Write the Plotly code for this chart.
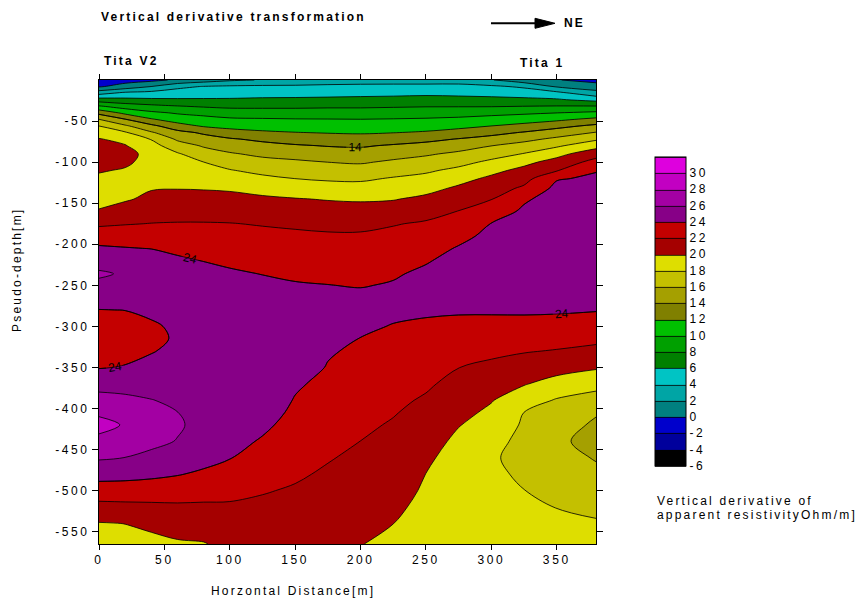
import numpy as np
import plotly.graph_objects as go

# horizontal positions (m) and pseudo-depths (m) of the gridded profile
x_dist = [0, 20, 40, 60, 80, 100, 125, 150, 175, 200, 225, 250, 275, 300, 325, 350, 380]
depth = [0, -8, -16, -24, -32, -40, -48, -56, -64, -72, -80, -90, -100, -110, -120, -132,
         -145, -160, -175, -190, -205, -220, -236, -250, -265, -280, -300, -315, -330, -350,
         -370, -390, -405, -420, -440, -460, -480, -500, -520, -540, -565]

# vertical derivative values read along each vertical profile (top to bottom)
vd_x0 = [-1.5, -0.2, 3.3, 6.9, 10.2, 13.4, 16.05, 18.0, 19.2, 20.1, 20.5, 21.0, 20.6, 20.1, 19.8, 19.4, 19.6, 20.1, 21.7, 23.0, 24.3, 25.3, 26.25, 25.6, 24.7, 23.97, 23.4, 23.0, 23.4, 23.9, 25.3, 26.7, 27.7, 28.6, 27.5, 26.2, 24.7, 23.1, 21.4, 19.9, 19.3]
vd_x20 = [-0.8, 0.8, 4.5, 6.5, 9.1, 11.5, 14.1, 16.3, 18.2, 19.5, 20.1, 20.4, 20.2, 19.9, 19.6, 19.35, 19.8, 20.8, 21.9, 23.0, 24.1, 25.2, 25.8, 25.4, 24.8, 24.02, 23.5, 23.1, 23.5, 24.1, 25.3, 26.4, 27.2, 27.85, 26.9, 25.98, 24.6, 23.1, 21.5, 20.02, 19.45]
vd_x40 = [-0.5, 2.02, 4.7, 6.3, 8.5, 10.4, 12.2, 14.5, 16.2, 17.9, 18.7, 19.6, 19.6, 19.5, 19.6, 19.9, 20.4, 21.2, 22.04, 23.0, 23.95, 24.9, 25.3, 25.1, 24.7, 24.3, 23.8, 23.6, 23.9, 24.5, 25.3, 26.05, 26.5, 26.9, 26.4, 25.6, 24.4, 23.0, 21.6, 20.3, 19.6]
vd_x60 = [0.3, 3.5, 5.0, 6.2, 8.1, 9.8, 11.1, 12.8, 14.6, 15.7, 16.9, 18.2, 19.1, 19.5, 19.6, 19.95, 20.6, 21.3, 22.1, 22.9, 23.6, 24.3, 25.0, 24.8, 24.6, 24.4, 24.25, 24.2, 24.4, 24.8, 25.3, 25.7, 26.02, 26.2, 25.93, 25.0, 24.1, 22.9, 21.7, 20.7, 19.8]
vd_x80 = [1.0, 4.1, 5.1, 6.2, 7.8, 9.4, 10.7, 11.8, 13.7, 14.8, 15.8, 16.9, 18.01, 18.6, 19.2, 19.9, 20.6, 21.3, 22.1, 22.7, 23.4, 23.95, 24.7, 24.7, 24.65, 24.6, 24.6, 24.7, 24.75, 24.9, 25.1, 25.3, 25.4, 25.5, 25.2, 24.6, 23.7, 22.7, 21.7, 20.9, 19.9]
vd_x100 = [1.7, 4.3, 5.2, 6.2, 7.6, 9.0, 10.3, 11.4, 12.8, 14.2, 15.1, 16.2, 17.2, 18.1, 18.9, 19.8, 20.5, 21.3, 22.05, 22.6, 23.1, 23.7, 24.23, 24.65, 25.0, 25.0, 25.02, 25.03, 25.05, 25.05, 25.05, 25.05, 25.03, 25.0, 24.67, 24.07, 23.3, 22.5, 21.75, 21.2, 20.5]
vd_x125 = [2.1, 4.4, 5.3, 6.3, 7.6, 8.9, 10.2, 11.2, 12.3, 13.6, 14.6, 15.6, 16.6, 17.5, 18.4, 19.4, 20.3, 21.1, 21.9, 22.4, 22.9, 23.4, 23.96, 24.38, 24.83, 25.0, 25.02, 25.03, 25.03, 25.02, 25.0, 24.98, 24.85, 24.4, 23.8, 23.2, 22.7, 22.1, 21.7, 21.4, 21.0]
vd_x150 = [2.4, 4.4, 5.3, 6.35, 7.6, 8.9, 10.1, 11.1, 12.05, 13.1, 14.2, 15.3, 16.3, 17.1, 17.99, 19.0, 20.1, 20.9, 21.75, 22.3, 22.8, 23.2, 23.7, 24.15, 24.6, 24.9, 24.92, 24.92, 24.9, 24.85, 24.21, 23.9, 23.6, 23.3, 22.9, 22.55, 22.2, 21.85, 21.6, 21.3, 21.0]
vd_x175 = [2.8, 4.5, 5.4, 6.4, 7.7, 8.9, 10.07, 11.0, 11.9, 12.9, 13.9, 15.0, 15.99, 16.9, 17.75, 18.8, 19.9, 20.8, 21.6, 22.2, 22.7, 23.1, 23.6, 24.03, 24.48, 24.7, 24.72, 24.7, 24.17, 23.9, 23.6, 23.26, 23.0, 22.8, 22.4, 22.1, 21.8, 21.6, 21.3, 21.0, 20.7]
vd_x200 = [3.0, 4.55, 5.45, 6.5, 7.7, 8.9, 10.03, 10.9, 11.8, 12.8, 13.8, 14.8, 15.8, 16.8, 17.7, 18.7, 19.8, 20.7, 21.6, 22.2, 22.65, 23.1, 23.6, 23.9, 24.41, 24.5, 24.36, 23.95, 23.7, 23.4, 23.1, 22.8, 22.55, 22.3, 21.99, 21.7, 21.4, 21.06, 20.75, 20.45, 20.05]
vd_x225 = [3.0, 4.6, 5.5, 6.6, 7.8, 9.0, 10.1, 11.0, 11.95, 13.1, 14.2, 15.3, 16.3, 17.25, 18.15, 19.0, 19.9, 20.9, 21.9, 22.4, 22.85, 23.3, 23.8, 24.15, 24.5, 24.45, 23.9, 23.65, 23.4, 23.05, 22.7, 22.35, 22.1, 21.85, 21.55, 21.25, 20.95, 20.6, 20.3, 20.01, 19.6]
vd_x250 = [3.0, 4.6, 5.6, 6.7, 7.9, 9.1, 10.2, 11.2, 12.2, 13.5, 14.6, 15.75, 16.8, 17.7, 18.55, 19.45, 20.4, 21.4, 22.2, 22.75, 23.3, 23.85, 24.36, 24.5, 24.5, 24.23, 23.74, 23.4, 23.1, 22.7, 22.25, 21.8, 21.5, 21.2, 20.8, 20.4, 19.98, 19.8, 19.6, 19.4, 19.2]
vd_x275 = [3.2, 4.5, 5.5, 6.65, 7.9, 9.2, 10.4, 11.5, 12.7, 14.1, 15.1, 16.4, 17.4, 18.45, 19.4, 20.3, 21.1, 22.05, 22.8, 23.5, 24.15, 24.6, 24.62, 24.6, 24.55, 24.19, 23.57, 23.1, 22.64, 22.02, 21.46, 20.9, 20.5, 20.08, 19.57, 19.06, 18.82, 18.86, 18.9, 18.95, 19.0]
vd_x300 = [2.1, 4.35, 5.4, 6.5, 7.9, 9.4, 10.8, 12.01, 13.4, 14.7, 15.97, 17.2, 18.4, 19.5, 20.35, 21.1, 21.94, 23.0, 24.05, 24.47, 24.8, 24.8, 24.8, 24.78, 24.66, 24.21, 23.5, 22.95, 22.4, 21.6, 20.86, 20.1, 19.65, 19.2, 18.65, 18.22, 18.33, 18.44, 18.55, 18.66, 18.8]
vd_x325 = [0.8, 3.7, 5.1, 6.4, 8.01, 9.7, 11.1, 12.6, 14.15, 15.5, 16.7, 18.1, 19.5, 20.5, 21.3, 22.35, 23.75, 24.32, 24.77, 24.9, 24.9, 24.9, 24.9, 24.88, 24.69, 24.24, 23.46, 22.8, 22.12, 21.13, 20.12, 18.9, 17.98, 17.76, 17.45, 17.45, 17.74, 18.02, 18.2, 18.38, 18.6]
vd_x350 = [0.1, 1.8, 4.6, 6.2, 8.1, 9.98, 11.6, 13.4, 15.0, 16.4, 17.7, 19.4, 20.7, 21.85, 23.85, 24.5, 24.75, 25.0, 25.0, 25.0, 25.0, 25.0, 24.98, 24.95, 24.66, 24.21, 23.37, 22.65, 21.9, 20.7, 19.3, 17.84, 17.35, 16.86, 16.36, 16.77, 17.2, 17.6, 17.98, 18.18, 18.4]
vd_x380 = [-0.7, 0.96, 2.75, 5.4, 8.1, 10.4, 12.5, 14.45, 16.1, 17.7, 19.3, 21.2, 22.7, 23.9, 24.28, 24.64, 25.0, 25.02, 25.02, 25.02, 25.0, 25.0, 24.98, 24.93, 24.48, 24.1, 23.1, 22.4, 21.56, 20.2, 18.64, 17.19, 16.17, 15.7, 15.37, 15.86, 16.44, 17.06, 17.69, 18.14, 18.5]

# contour levels and band colours (from -6 up to 32, step 2)
level_start, level_end, level_step = -6, 32, 2
band_colors = ["#000000", "#00009C", "#0000CC", "#008080", "#00A5A5", "#00C4C4",
               "#008000", "#00A000", "#00C000", "#808000", "#A5A000", "#C4C000",
               "#DEDE00", "#A50000", "#C40000", "#870087", "#A300A3", "#C200C2", "#DE00DE"]
cbar_ticks = list(range(-6, 31, 2))
x_ticks = [0, 50, 100, 150, 200, 250, 300, 350]
y_ticks = list(range(-50, -551, -50))

profiles = [vd_x0, vd_x20, vd_x40, vd_x60, vd_x80, vd_x100, vd_x125, vd_x150, vd_x175,
            vd_x200, vd_x225, vd_x250, vd_x275, vd_x300, vd_x325, vd_x350, vd_x380]
Z = np.column_stack([np.array(p, dtype=float) for p in profiles])

# colour scale for filled contours (band k sampled at (k+1)/n_levels)
n_levels = int(round((level_end - level_start) / level_step)) + 1
fill_scale = [[0.0, band_colors[0]]]
for k, c in enumerate(band_colors):
    fill_scale.append([(k + 1) / n_levels, c])
fill_scale.append([1.0, band_colors[-1]])

# stepped colour scale for the colour bar (exact -6 .. 32 range)
n_bands = len(band_colors)
step_scale = []
for k, c in enumerate(band_colors):
    step_scale.append([k / n_bands, c])
    step_scale.append([(k + 1) / n_bands, c])

FONT = "Liberation Sans, Arial, sans-serif"


def spaced(s, ls=2.2):
    return '<span style="letter-spacing:%spx">%s</span>' % (ls, s)


fig = go.Figure()
fig.add_trace(go.Contour(
    x=x_dist, y=depth, z=Z,
    autocontour=False,
    contours=dict(start=level_start, end=level_end, size=level_step,
                  coloring="fill", showlines=True),
    line=dict(color="black", width=0.8, smoothing=1),
    colorscale=fill_scale, showscale=False,
    hoverinfo="skip",
))
# labelled contour lines (14 and 24)
fig.add_trace(go.Contour(
    x=x_dist, y=depth, z=Z,
    autocontour=False,
    contours=dict(start=14, end=24, size=10, coloring="none", showlabels=True,
                  labelfont=dict(family=FONT, size=12, color="black")),
    line=dict(color="black", width=0.8, smoothing=1),
    showscale=False, hoverinfo="skip",
))
# colour bar carrier (kept outside the visible axis range)
fig.add_trace(go.Contour(
    x=[1000, 1010], y=[1000, 1010], z=[[level_start, level_end], [level_start, level_end]],
    zmin=level_start, zmax=level_end,
    autocontour=False,
    contours=dict(start=level_start, end=level_end, size=level_step,
                  coloring="heatmap", showlines=True),
    line=dict(color="black", width=0.8),
    colorscale=step_scale, hoverinfo="skip",
    colorbar=dict(
        tickmode="array", tickvals=cbar_ticks,
        ticktext=[spaced(str(v), 2.6) for v in cbar_ticks],
        ticks="", ticklen=0,
        tickfont=dict(family=FONT, size=12, color="black"),
        thickness=31, thicknessmode="pixels",
        len=309, lenmode="pixels",
        x=1.1187, xanchor="left", xpad=0,
        y=0.502, yanchor="middle", ypad=0,
        outlinewidth=1, outlinecolor="black", borderwidth=0,
    ),
))

fig.update_layout(
    width=856, height=599,
    margin=dict(l=99, r=260, t=80, b=55),
    paper_bgcolor="white", plot_bgcolor="white",
    font=dict(family=FONT, size=12, color="black"),
    showlegend=False,
    xaxis=dict(range=[0, 380], tickmode="array", tickvals=x_ticks,
               ticktext=[spaced(str(v), 2.6) for v in x_ticks],
               ticks="outside", ticklen=5, tickcolor="black", showline=True,
               linecolor="black", linewidth=1, mirror="ticks", showgrid=False,
               zeroline=False, tickfont=dict(size=12)),
    yaxis=dict(range=[-565, 0], tickmode="array", tickvals=y_ticks,
               ticktext=[spaced(str(v), 2.6) for v in y_ticks],
               ticks="outside", ticklen=6, tickcolor="black", showline=True,
               linecolor="black", linewidth=1, mirror="ticks", showgrid=False,
               zeroline=False, tickfont=dict(size=12)),
    annotations=[
        dict(text=spaced("<b>Vertical derivative transformation</b>"), xref="paper",
             yref="paper", x=0.0, y=1.1358, xanchor="left", yanchor="middle",
             showarrow=False, font=dict(size=12)),
        dict(text=spaced("<b>NE</b>"), xref="paper", yref="paper", x=0.9316, y=1.1222,
             xanchor="left", yanchor="middle", showarrow=False, font=dict(size=12)),
        dict(text=spaced("<b>Tita V2</b>"), xref="paper", yref="paper", x=0.006, y=1.041,
             xanchor="left", yanchor="middle", showarrow=False, font=dict(size=12)),
        dict(text=spaced("<b>Tita 1</b>"), xref="paper", yref="paper", x=0.844, y=1.0366,
             xanchor="left", yanchor="middle", showarrow=False, font=dict(size=12)),
        dict(text=spaced("Horzontal Distance[m]"), xref="paper", yref="paper", x=0.3903,
             y=-0.1013, xanchor="center", yanchor="middle", showarrow=False,
             font=dict(size=12)),
        dict(text=spaced("Pseudo-depth[m]"), xref="paper", yref="paper", x=-0.165,
             y=0.5905, xanchor="center", yanchor="middle", showarrow=False,
             textangle=-90, font=dict(size=12)),
        dict(text=spaced("Vertical derivative of"), xref="paper", yref="paper",
             x=1.1187, y=0.0927, xanchor="left", yanchor="middle", showarrow=False,
             font=dict(size=12)),
        dict(text=spaced("apparent resistivityOhm/m]"), xref="paper", yref="paper",
             x=1.1187, y=0.0625, xanchor="left", yanchor="middle", showarrow=False,
             font=dict(size=12)),
    ],
    shapes=[
        dict(type="line", xref="paper", yref="paper", x0=0.7887, y0=1.1222, x1=0.8813,
             y1=1.1222, line=dict(color="black", width=2)),
        dict(type="path", xref="paper", yref="paper",
             path="M 0.8773 1.1330 L 0.9175 1.1222 L 0.8773 1.1114 Z",
             fillcolor="black", line=dict(color="black", width=1)),
    ],
)

fig.write_html("out.html")
